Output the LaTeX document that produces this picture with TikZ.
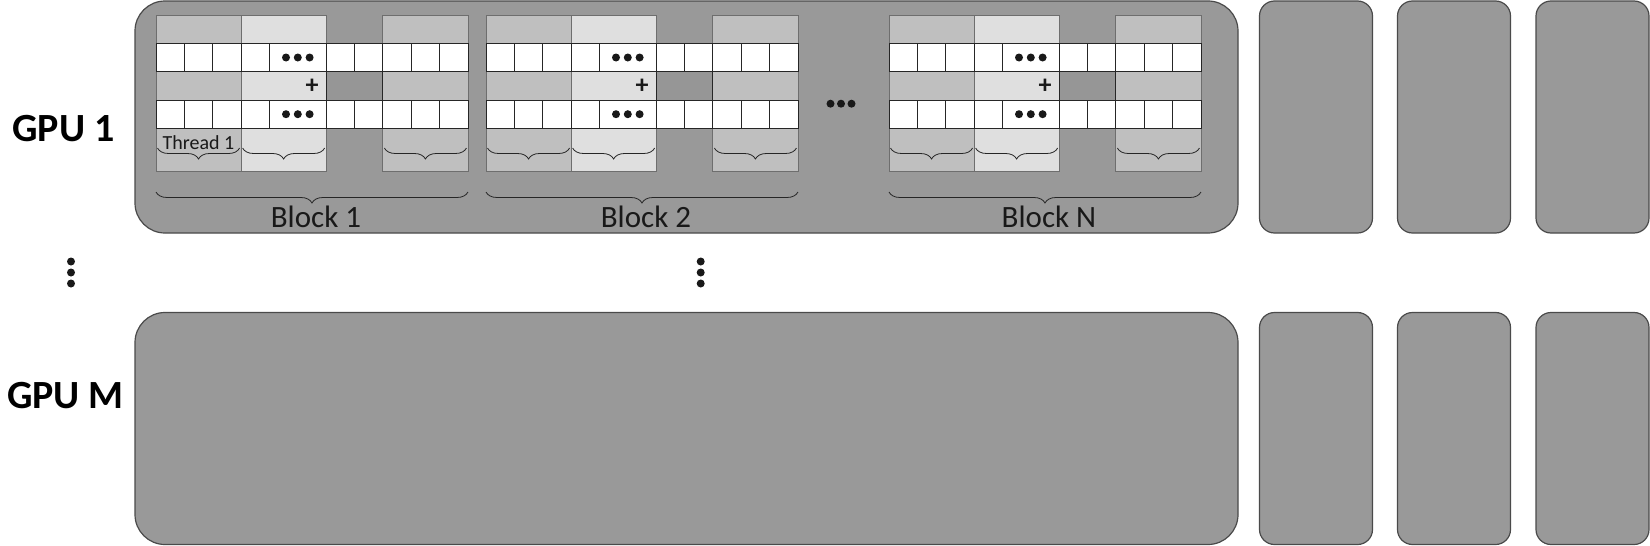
\documentclass[tikz,border=0pt]{standalone}
\usepackage{fontspec}
\setmainfont{Carlito}
\usetikzlibrary{decorations.pathreplacing}
\definecolor{bggray}{HTML}{999999}
\definecolor{colA}{HTML}{BFBFBF}
\definecolor{colB}{HTML}{DFDFDF}
\definecolor{gapc}{HTML}{969696}
\definecolor{edge}{HTML}{4A4A4A}
\begin{document}
\begin{tikzpicture}[x=1pt,y=-1pt,
  gpubox/.style={draw=edge, line width=1.2pt, fill=bggray, rounded corners=30pt, inner sep=0pt, outer sep=0pt, anchor=north west, minimum width=1103pt, minimum height=232pt},
  smbox/.style={draw=edge, line width=1.2pt, fill=bggray, rounded corners=15pt, inner sep=0pt, outer sep=0pt, anchor=north west, minimum width=113pt, minimum height=232pt},
  colbox/.style={draw=edge!80, line width=0.8pt},
  cellbox/.style={draw=black!85, line width=0.9pt, fill=white},
  thbrace/.style={decorate, decoration={brace, mirror, amplitude=11pt}, draw=black!85, line width=0.8pt},
  blbrace/.style={decorate, decoration={brace, mirror, amplitude=11pt}, draw=black!85, line width=0.8pt},
  dotc/.style={fill=black!90},
  gpulabel/.style={font=\bfseries\fontsize{40}{48}\selectfont, anchor=base, inner sep=0pt},
  blocklabel/.style={font=\fontsize{31}{37}\selectfont, anchor=base, inner sep=0pt, text=black!90},
  threadlabel/.style={font=\fontsize{20}{24}\selectfont, anchor=base, inner sep=0pt, text=black!90},
  pluslabel/.style={font=\bfseries\fontsize{26}{30}\selectfont, inner sep=0pt, text=black!90}
]
\useasboundingbox (0,0) rectangle (1650,546);

% GPU boxes
\node[gpubox] (gpu1) at (135,1) {};
\node[gpubox] (gpum) at (135,312.5) {};
\node[smbox] (s11) at (1259.5,1) {};
\node[smbox] (s12) at (1397.5,1) {};
\node[smbox] (s13) at (1536,1) {};
\node[smbox] (s21) at (1259.5,312.5) {};
\node[smbox] (s22) at (1397.5,312.5) {};
\node[smbox] (s23) at (1536,312.5) {};

% labels
\node[gpulabel] (lab1) at (63.5,141.7) {GPU 1};
\node[gpulabel] (labm) at (65.5,408.3) {GPU M};

% vertical dots
\foreach \yy in {261.5,272.5,283.5} {
  \fill[dotc] (71,\yy) circle (4pt);
  \fill[dotc] (700.7,\yy) circle (4pt);
}
% horizontal dots between blocks
\foreach \xx in {830.5,841,851.5} \fill[dotc] (\xx,103.7) circle (4pt);

\def\w{28.36}
\foreach \bx/\k in {156/1,486/2,889/3} {
  % thread columns
  \filldraw[colbox, fill=colA] (\bx,15) rectangle ++(3*\w,156);
  \filldraw[colbox, fill=colB] (\bx+3*\w,15) rectangle ++(3*\w,156);
  \filldraw[colbox, fill=colA] (\bx+8*\w,15) rectangle ++(3*\w,156);
  % gap cell in middle row
  \filldraw[cellbox, fill=gapc] (\bx+6*\w,71.7) rectangle ++(2*\w,28.4);
  % white rows
  \foreach \yy in {43.3,100} {
    \foreach \i in {0,1,2,3,6,7,8,9,10}
      \filldraw[cellbox] (\bx+\i*\w,\yy) rectangle ++(\w,28.4);
    \filldraw[cellbox] (\bx+4*\w,\yy) rectangle ++(2*\w,28.4);
    \foreach \d in {-11.8,0,11.8}
      \fill[dotc] (\bx+5*\w+\d,\yy+14.2) circle (4pt);
  }
  % plus
  \node[pluslabel] (plus\k) at (\bx+5.5*\w,86.5) {+};
  % thread braces
  \draw[thbrace] (\bx+1.5,148) -- (\bx+3*\w-1.5,148);
  \draw[thbrace] (\bx+3*\w+1.5,148) -- (\bx+6*\w-1.5,148);
  \draw[thbrace] (\bx+8*\w+1.5,148) -- (\bx+11*\w-1.5,148);
  % block brace
  \draw[blbrace] (\bx,192) -- (\bx+11*\w,192);
}

\node[threadlabel] (thr1) at (156+1.5*28.36,149.7) {Thread 1};
\node[blocklabel] (blk1) at (156+5.5*28.36+4,227.5) {Block 1};
\node[blocklabel] (blk2) at (486+5.5*28.36+4,227.5) {Block 2};
\node[blocklabel] (blkN) at (889+5.5*28.36+4,227.5) {Block N};
\end{tikzpicture}
\end{document}
